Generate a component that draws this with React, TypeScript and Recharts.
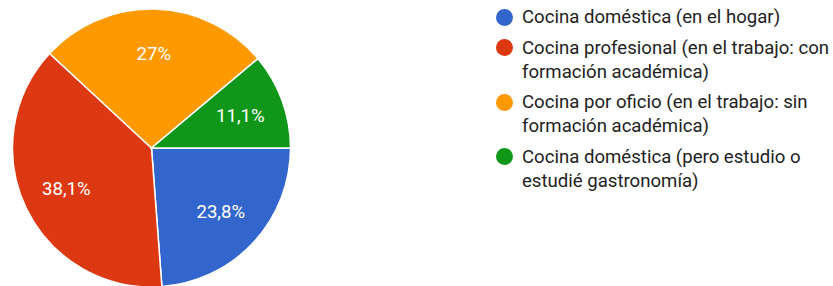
import { PieChart, Pie, Cell, Legend } from "recharts";

// respuestas por categoría (63 en total)
const categories = [
  "Cocina doméstica (en el hogar)",
  "Cocina profesional (en el trabajo: con formación académica)",
  "Cocina por oficio (en el trabajo: sin formación académica)",
  "Cocina doméstica (pero estudio o estudié gastronomía)",
];
const counts = [15, 24, 17, 7];
const colors = ["#3366cc", "#dc3912", "#ff9900", "#109618"];

const data = categories.map((name, i) => ({ name, value: counts[i] }));

const RADIAN = Math.PI / 180;

const fmt = (p: number) => String(Math.round(p * 1000) / 10).replace(".", ",") + "%";

const renderLabel = ({ cx, cy, midAngle, outerRadius, percent }: any) => {
  const r = outerRadius * 0.68;
  const x = cx + r * Math.cos(-midAngle * RADIAN);
  const y = cy + r * Math.sin(-midAngle * RADIAN);
  return (
    <text
      x={x}
      y={y}
      fill="#ffffff"
      textAnchor="middle"
      dominantBaseline="central"
      fontFamily="Roboto, Arial, sans-serif"
      fontSize={18.6}
    >
      {fmt(percent)}
    </text>
  );
};

const renderLegend = () => (
  <div style={{ fontFamily: "Roboto, Arial, sans-serif", fontSize: 18.6, color: "#222222", width: 345 }}>
    {categories.map((c, i) => (
      <div key={c} style={{ display: "flex", alignItems: "flex-start", lineHeight: "24px", marginBottom: 6.5 }}>
        <div
          style={{
            width: 17,
            height: 17,
            borderRadius: "50%",
            background: colors[i],
            marginTop: 3.5,
            marginRight: 9,
            flexShrink: 0,
          }}
        />
        <div style={{ width: 316 }}>{c}</div>
      </div>
    ))}
  </div>
);

export default function App() {
  return (
    <div style={{ position: "absolute", left: 0, top: 0, background: "#fff" }}>
      <PieChart width={833} height={286} margin={{ top: 0, right: 0, bottom: 0, left: 0 }}>
        <Pie
          data={data}
          dataKey="value"
          nameKey="name"
          cx={151.5}
          cy={148}
          outerRadius={139}
          startAngle={0}
          endAngle={-360}
          stroke="#ffffff"
          strokeWidth={1.5}
          label={renderLabel}
          labelLine={false}
          isAnimationActive={false}
        >
          {data.map((d, i) => (
            <Cell key={d.name} fill={colors[i]} />
          ))}
        </Pie>
        <Legend
          layout="vertical"
          content={renderLegend}
          wrapperStyle={{ left: 496, top: 5, width: 345 }}
        />
      </PieChart>
    </div>
  );
}
